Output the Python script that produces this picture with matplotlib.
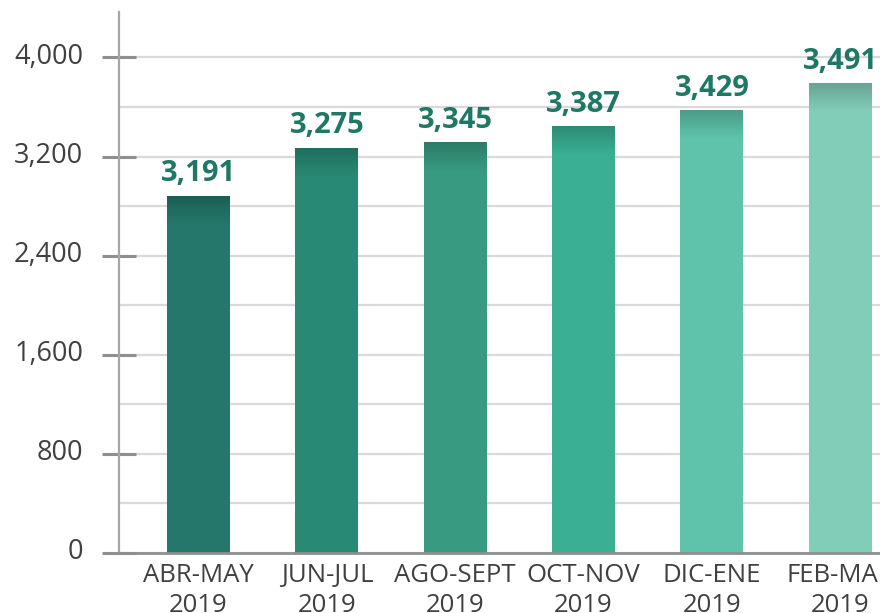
import numpy as np
import matplotlib
matplotlib.use("Agg")
import matplotlib.pyplot as plt
from matplotlib.colors import to_rgb
from matplotlib.ticker import MultipleLocator, FuncFormatter
from matplotlib.transforms import ScaledTranslation

# data
periods = ["ABR-MAY\n2019", "JUN-JUL\n2019", "AGO-SEPT\n2019",
           "OCT-NOV\n2019", "DIC-ENE\n2019", "FEB-MAR\n2019"]
values = [3191, 3275, 3345, 3387, 3429, 3491]          # printed labels
bar_heights = [2876, 3264, 3310, 3439, 3568, 3784]    # heights as drawn
bar_colors = ["#24776a", "#288a74", "#389a80", "#3aaf93", "#5ec3aa", "#82cdb7"]

plt.rcParams['font.family'] = ['Open Sans', 'DejaVu Sans']

fig = plt.figure(figsize=(8.8, 6.13), dpi=100)
ax = fig.add_axes([0.1352, 0.0979, 0.8648, 0.8825])

x = np.arange(len(periods))
width = 0.49
bars = ax.bar(x, bar_heights, width=width, color=bar_colors, zorder=3)

# darker shading at the top of every bar
grad_h = 220
for xi, h, c in zip(x, bar_heights, bar_colors):
    base = np.array(to_rgb(c))
    top = base * 0.8
    t = np.linspace(0, 1, 64)[:, None]
    img = (top * (1 - t) + base * t)[:, None, :]
    ax.imshow(img, extent=[xi - width / 2, xi + width / 2, h - grad_h, h],
              aspect='auto', interpolation='bilinear', zorder=4, origin='upper')

for xi, h, v in zip(x, bar_heights, values):
    ax.annotate(f"{v:,}", (xi, h), xytext=(0, 6), textcoords='offset points',
                ha='center', va='bottom', fontsize=21, fontweight='bold',
                color='#1f7866', zorder=5)

ax.set_xlim(-0.62, 5.31)
ax.set_ylim(0, 4367)

ax.yaxis.set_major_locator(MultipleLocator(800))
ax.yaxis.set_minor_locator(MultipleLocator(400))
ax.yaxis.set_major_formatter(FuncFormatter(lambda v, p: f"{int(v):,}"))
ax.grid(axis='y', which='both', color='#d9d9d9', linewidth=1.6, zorder=0)
ax.set_axisbelow(True)

ax.tick_params(axis='y', which='major', direction='inout', length=25, width=2.2,
               color='#8f8f8f', pad=13.4, labelsize=19.5, labelcolor='#404040')
ax.tick_params(axis='y', which='minor', length=0)
for lab in ax.get_yticklabels():
    lab.set_transform(lab.get_transform() + ScaledTranslation(0, 3 / 72, fig.dpi_scale_trans))

ax.set_xticks(x)
ax.set_xticklabels(periods, linespacing=1.3)
ax.tick_params(axis='x', length=0, pad=7, labelsize=18.5, labelcolor='#404040')

for s in ['top', 'right']:
    ax.spines[s].set_visible(False)
ax.spines['left'].set_color('#a6a6a6')
ax.spines['left'].set_linewidth(1.6)
ax.spines['bottom'].set_color('#8f8f8f')
ax.spines['bottom'].set_linewidth(2)
ax.spines['bottom'].set_zorder(6)

fig.savefig("out.png", dpi=100)
